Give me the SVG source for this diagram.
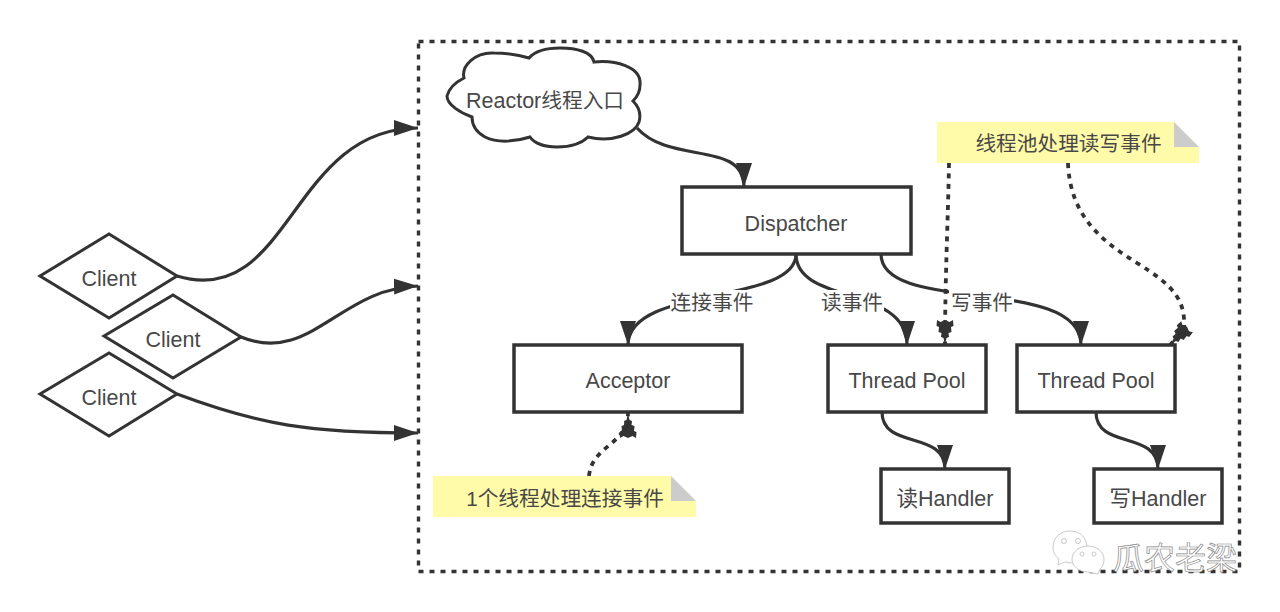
<svg xmlns="http://www.w3.org/2000/svg" width="1280" height="612" viewBox="0 0 1280 612">
<style>
text{font-family:"Liberation Sans","Noto Sans CJK SC",sans-serif;font-size:21.500px;fill:#484848;text-anchor:middle}
.cjk{font-size:20.700px}
.box{fill:#fff;stroke:#333;stroke-width:3.500}
.dia{fill:#fff;stroke:#333;stroke-width:3}
.edge{fill:none;stroke:#333;stroke-width:3.200;marker-end:url(#arrow)}
.dot{fill:none;stroke:#333;stroke-width:3.800;stroke-dasharray:5 5.500;marker-end:url(#jag)}
.note{fill:#fffba8}
.fold{fill:#ccc}
.mask{fill:#fff}
.wm{font-size:31px;fill:#fff;stroke:#888;stroke-width:.7;text-anchor:start}
.wmi{fill:#fff;stroke:#bbb;stroke-width:.8}
</style>
<defs>
<marker id="arrow" markerUnits="userSpaceOnUse" markerWidth="26" markerHeight="18" refX="24" refY="8.500" orient="auto"><path d="M0 0.500L24 8.500L0 16.500Z" fill="#333"/></marker>
<marker id="jag" markerUnits="userSpaceOnUse" markerWidth="28" markerHeight="20" refX="26" refY="9.500" orient="auto"><path d="M26 9.500L19 8L18 5.500L14 6L13 3L8 3.500L7 1L1 1.500L3 5L1 9.500L3 14L1 17.500L7 18L8 15.500L13 16L14 13L18 13.500L19 11Z" fill="#333"/></marker>
</defs>
<rect width="1280" height="612" fill="#fff"/>
<rect id="boundary" x="418.500" y="41.500" width="821" height="530" fill="none" stroke="#333" stroke-width="3.400" stroke-dasharray="5 6"/>

<g id="connectors">
<path class="edge" d="M177 276C290 310 290 128 418 128"/>
<path class="edge" d="M241 337C310 365 340 288 418 286"/>
<path class="edge" d="M177 394C260 425 310 433 418 433"/>
<path class="edge" d="M637 128C670 165 744 140 744 187"/>
<path class="edge" d="M796 254C796 305 628 285 628 345"/>
<path class="edge" d="M796 254C796 305 907 285 907 345"/>
<path class="edge" d="M881 254C881 315 1081 275 1081 345"/>
<path class="edge" d="M882 412C882 450 945 430 945 469"/>
<path class="edge" d="M1096 412C1096 450 1158 430 1158 469"/>
<path class="dot" d="M949 163C948 220 945 280 945 345"/>
<path class="dot" d="M1068 163C1070 215 1100 240 1137 263S1186 300 1184 330L1170 345"/>
<path class="dot" d="M589 476C592 445 628 445 628 413"/>
</g>

<g id="edge-labels">
<rect class="mask" x="670" y="290" width="84" height="26"/>
<text class="cjk" x="712" y="310">连接事件</text>
<rect class="mask" x="821" y="290" width="63" height="26"/>
<text class="cjk" x="852" y="310">读事件</text>
<rect class="mask" x="949" y="290" width="65" height="26"/>
<text class="cjk" x="982" y="310">写事件</text>
</g>

<g id="client1"><path class="dia" d="M40 276L109 234L177 276L109 318Z"/><text x="109" y="286">Client</text></g>
<g id="client2"><path class="dia" d="M104 336L173 295L241 337L173 378Z"/><text x="173" y="347">Client</text></g>
<g id="client3"><path class="dia" d="M40 394L109 353L177 394L109 436Z"/><text x="109" y="405">Client</text></g>

<g id="reactor">
<path d="M447 96C449 88 456 82 464 78C461 66 475 52 494 53C507 53 520 55 529 58C536 50 548 48 560 48C577 48 592 52 594 62C614 60 642 66 640 85C640 92 637 97 633 101C640 108 641 115 639 122C635 134 612 143 588 137C580 145 567 147 557 147C544 147 534 143 530 137C515 142 497 143 485 137C476 132 472 125 472 117C461 113 447 105 447 96Z" fill="#fff" stroke="#333" stroke-width="3"/>
<text x="545" y="108">Reactor<tspan class="cjk">线程入口</tspan></text>
</g>

<g id="dispatcher"><rect class="box" x="682" y="187" width="229" height="67"/><text x="796" y="231">Dispatcher</text></g>
<g id="acceptor"><rect class="box" x="514" y="345" width="228" height="67"/><text x="628" y="388">Acceptor</text></g>
<g id="threadpool1"><rect class="box" x="828" y="345" width="158" height="67"/><text x="907" y="388">Thread Pool</text></g>
<g id="threadpool2"><rect class="box" x="1017" y="345" width="158" height="67"/><text x="1096" y="388">Thread Pool</text></g>
<g id="read-handler"><rect class="box" x="881" y="469" width="128" height="54"/><text x="945" y="506">读Handler</text></g>
<g id="write-handler"><rect class="box" x="1094" y="469" width="128" height="54"/><text x="1158" y="506">写Handler</text></g>

<g id="note-threads">
<path class="note" d="M937 122H1174L1199 147V163H937Z"/><path class="fold" d="M1174 122V147H1199Z"/>
<text class="cjk" x="1068.500" y="151">线程池处理读写事件</text>
</g>
<g id="note-acceptor">
<path class="note" d="M433 476H671L696 501V517H433Z"/><path class="fold" d="M671 476V501H696Z"/>
<text class="cjk" x="565" y="506">1个线程处理连接事件</text>
</g>

<g id="watermark">
<path class="wmi" d="M1070 531C1060 531 1053 538 1053 547C1053 552 1055 556 1059 559L1058 565L1065 562L1072 563C1082 563 1087 556 1087 547C1087 538 1080 531 1070 531Z"/>
<circle class="wmi" cx="1064" cy="541" r="2.500"/><circle class="wmi" cx="1078" cy="541" r="2.500"/>
<path class="wmi" d="M1088 546C1079 546 1072 552 1072 559C1072 566 1079 572 1088 572L1098 574L1100 569C1103 567 1104 563 1104 559C1104 552 1097 546 1088 546Z"/>
<circle class="wmi" cx="1082" cy="554" r="2"/><circle class="wmi" cx="1094" cy="554" r="2"/>
<text class="wm" x="1113" y="569">瓜农老梁</text>
</g>
</svg>
